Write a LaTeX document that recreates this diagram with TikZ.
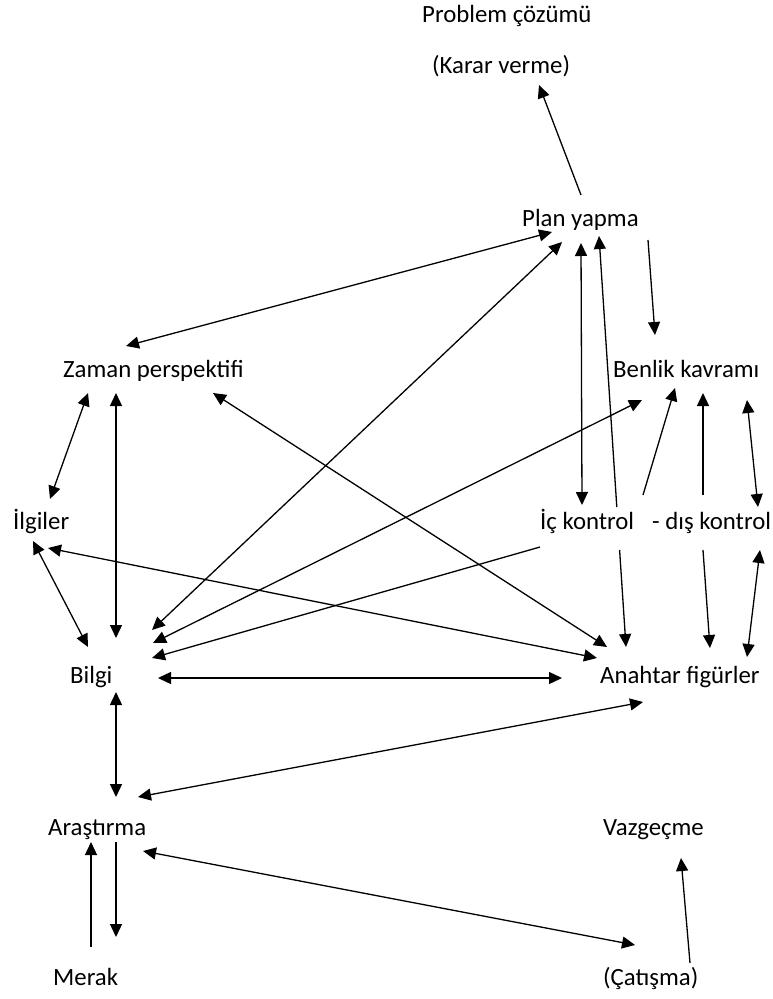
\documentclass[tikz,border=0pt]{standalone}
\usepackage{fontspec}
\setmainfont{Carlito}
\usetikzlibrary{arrows.meta,calc}
\begin{document}
\begin{tikzpicture}[x=1pt,y=-1pt,
  lbl/.style={anchor=base west,inner sep=0pt,font=\fontsize{24.8}{30}\selectfont},
  con/.style={line width=1.3pt,-{Triangle[length=13pt,width=12pt]}},
  bicon/.style={line width=1.3pt,{Triangle[length=13pt,width=12pt]}-{Triangle[length=13pt,width=12pt]}}]
\useasboundingbox (0,0) rectangle (773,999);
% nodes
\node[lbl] (prob) at (422,22) {Problem çözümü};
\node[lbl] (karar) at (432,73) {(Karar verme)};
\node[lbl] (plan) at (522,226) {Plan yapma};
\node[lbl] (zaman) at (63,377) {Zaman perspektifi};
\node[lbl] (benlik) at (613,377) {Benlik kavramı};
\node[lbl] (ilgi) at (13,529) {İlgiler};
\node[lbl] (ic) at (540,529) {İç kontrol};
\node[lbl] (dis) at (652,529) {- dış kontrol};
\node[lbl] (bilgi) at (70,683) {Bilgi};
\node[lbl] (anahtar) at (600,683) {Anahtar figürler};
\node[lbl] (arast) at (48,835) {Araştırma};
\node[lbl] (vaz) at (603,835) {Vazgeçme};
\node[lbl] (merak) at (53,985) {Merak};
\node[lbl] (cat) at (603,985) {(Çatışma)};
% gap coordinates where the Plan--Anahtar line passes behind the text
\coordinate (g1) at ($(ic.base west)+(76.8,-22)$);
\coordinate (g2) at ($(ic.base west)+(79.6,21)$);
% connectors
\draw[con] ($(plan.base west)+(59,-31)$) -- ($(karar.base west)+(107,12)$);
\draw[bicon] ($(plan.base west)+(30,6)$) -- ($(zaman.base west)+(63,-31)$);
\draw[bicon] ($(plan.base west)+(40,16)$) -- ($(bilgi.base west)+(82,-53)$);
\draw[bicon] ($(plan.base west)+(59,17)$) -- ($(ic.base west)+(42,-24)$);
\draw[con] (g1) -- ($(plan.base west)+(77,10)$);
\draw[con] (g2) -- ($(anahtar.base west)+(26,-36)$);
\draw[con] ($(plan.base west)+(126,14)$) -- ($(benlik.base west)+(42,-42)$);
\draw[bicon] ($(bilgi.base west)+(83,-40)$) -- ($(benlik.base west)+(29,23)$);
\draw[con] ($(ic.base west)+(0,18)$) -- ($(bilgi.base west)+(82,-25)$);
\draw[con] ($(ic.base west)+(103,-34)$) -- ($(benlik.base west)+(62,11)$);
\draw[con] ($(dis.base west)+(51,-34)$) -- ($(benlik.base west)+(90,16)$);
\draw[bicon] ($(benlik.base west)+(134,23)$) -- ($(dis.base west)+(106,-22)$);
\draw[bicon] ($(dis.base west)+(108,21)$) -- ($(anahtar.base west)+(147,-26)$);
\draw[con] ($(dis.base west)+(51,21)$) -- ($(anahtar.base west)+(110,-35)$);
\draw[bicon] ($(zaman.base west)+(150,16)$) -- ($(anahtar.base west)+(7,-36)$);
\draw[bicon] ($(ilgi.base west)+(35,19)$) -- ($(anahtar.base west)+(-3,-25)$);
\draw[bicon] ($(zaman.base west)+(25,16)$) -- ($(ilgi.base west)+(37,-30)$);
\draw[bicon] ($(ilgi.base west)+(20,12)$) -- ($(bilgi.base west)+(18,-36)$);
\draw[bicon] ($(zaman.base west)+(53,16)$) -- ($(bilgi.base west)+(46,-45)$);
\draw[bicon] ($(bilgi.base west)+(88,-5)$) -- ($(anahtar.base west)+(-38,-5)$);
\draw[bicon] ($(bilgi.base west)+(46,9)$) -- ($(arast.base west)+(68,-38)$);
\draw[bicon] ($(arast.base west)+(90,-38)$) -- ($(anahtar.base west)+(43,19)$);
\draw[bicon] ($(arast.base west)+(95,16)$) -- ($(cat.base west)+(32,-40)$);
\draw[con] ($(merak.base west)+(38,-38)$) -- ($(arast.base west)+(43,7)$);
\draw[con] ($(arast.base west)+(68,7)$) -- ($(merak.base west)+(63,-48)$);
\draw[con] ($(cat.base west)+(87,-22)$) -- ($(vaz.base west)+(78,23)$);
\end{tikzpicture}
\end{document}
